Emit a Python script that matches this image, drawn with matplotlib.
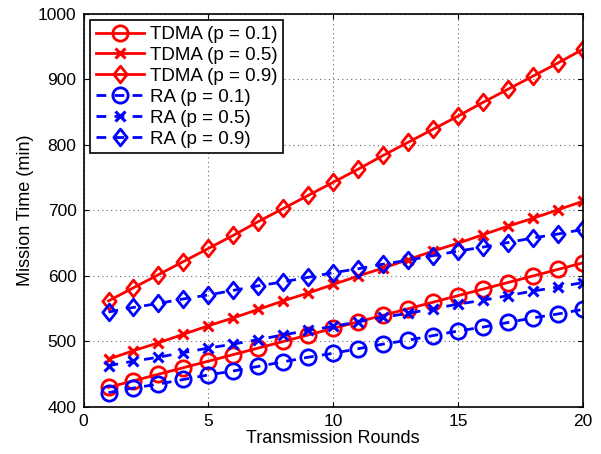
import matplotlib
matplotlib.use("Agg")
import matplotlib.pyplot as plt
from matplotlib.path import Path

plt.rcParams['font.family'] = ['Liberation Sans', 'DejaVu Sans']

rounds = list(range(1, 21))
tdma_01 = [430, 440, 450, 460, 470, 480, 490, 500, 510, 520,
           530, 540, 550, 560, 570, 580, 590, 600, 610, 620]
tdma_05 = [473, 486, 498, 511, 524, 536, 549, 562, 574, 587,
           600, 612, 625, 638, 650, 663, 676, 688, 701, 714]
tdma_09 = [562, 582, 602, 622, 642, 662, 683, 703, 723, 743,
           763, 784, 804, 824, 844, 865, 885, 905, 925, 946]
ra_01 = [422, 429, 435, 442, 449, 455, 462, 469, 476, 482,
         489, 496, 502, 509, 516, 522, 529, 536, 542, 549]
ra_05 = [463, 470, 476, 483, 490, 496, 503, 510, 517, 523,
         530, 537, 543, 550, 557, 563, 570, 577, 583, 590]
ra_09 = [545, 552, 558, 565, 571, 578, 585, 591, 598, 605,
         611, 618, 624, 631, 638, 644, 651, 658, 664, 671]

# matlab-style diamond, a bit taller than wide
diamond = Path([(0, 1), (0.8, 0), (0, -1), (-0.8, 0), (0, 1)],
               [Path.MOVETO, Path.LINETO, Path.LINETO, Path.LINETO, Path.CLOSEPOLY])

fig = plt.figure(figsize=(6.01, 4.54), dpi=100)
ax = fig.add_axes([0.139, 0.1035, 0.831, 0.866])

circ = dict(linewidth=2, marker='o', markersize=11, markerfacecolor='none', markeredgewidth=2)
cross = dict(linewidth=2, marker='x', markersize=7, markeredgewidth=2.2)
diam = dict(linewidth=2, marker=diamond, markersize=12, markerfacecolor='none', markeredgewidth=2)
dash = dict(linestyle='--', dashes=(3.5, 3))

ax.plot(rounds, tdma_01, color='red', label='TDMA (p = 0.1)', **circ)
ax.plot(rounds, tdma_05, color='red', label='TDMA (p = 0.5)', **cross)
ax.plot(rounds, tdma_09, color='red', label='TDMA (p = 0.9)', **diam)
ax.plot(rounds, ra_01, color='blue', label='RA (p = 0.1)', **circ, **dash)
ax.plot(rounds, ra_05, color='blue', label='RA (p = 0.5)', **cross, **dash)
ax.plot(rounds, ra_09, color='blue', label='RA (p = 0.9)', **diam, **dash)

ax.set_xlim(0, 20)
ax.set_ylim(400, 1000)
ax.set_xticks([0, 5, 10, 15, 20])
ax.set_yticks(range(400, 1001, 100))
ax.grid(True, linestyle=(0, (1, 3)), color='#666666', linewidth=0.8)
for s in ax.spines.values():
    s.set_linewidth(1.2)
ax.tick_params(direction='in', top=True, right=True, labelsize=12.5, pad=5)
ax.set_xlabel('Transmission Rounds', fontsize=13, labelpad=1)
ax.set_ylabel('Mission Time (min)', fontsize=13, labelpad=3)

leg = ax.legend(loc='upper left', fontsize=13.5, fancybox=False, edgecolor='black',
                framealpha=1, handlelength=2.6, borderaxespad=0.35,
                labelspacing=0.2, handletextpad=0.3, borderpad=0.3)
leg.get_frame().set_linewidth(1.2)

fig.savefig('out.png', dpi=100)
